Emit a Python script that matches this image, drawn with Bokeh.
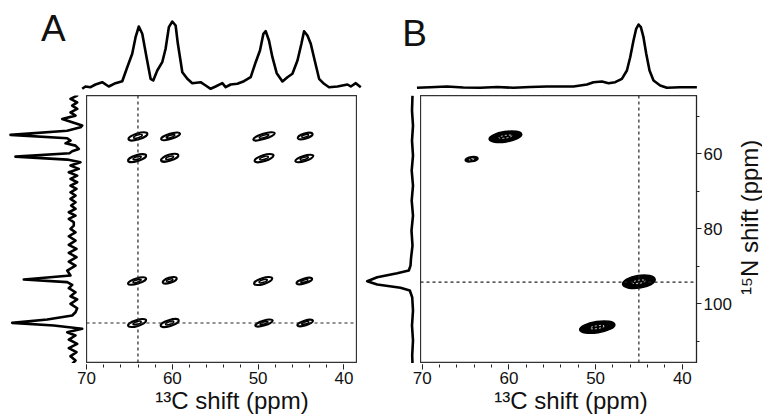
import math
from bokeh.plotting import figure
from bokeh.models import Range1d, Span, Label, SingleIntervalTicker, FixedTicker
from bokeh.layouts import row, column
from bokeh.embed import file_html
from bokeh.resources import INLINE

# ---------------- data ----------------
# Panel A: 1D 13C projection (ppm, intensity)
a_top_c = [70.50, 70.12, 69.53, 68.95, 68.17, 67.40, 66.62, 65.83, 65.25, 64.67, 64.28, 63.90, 63.50, 63.00,
           62.53, 62.22, 61.75, 61.17, 60.78, 60.40, 60.00, 59.61, 59.35, 58.83, 58.25, 57.67, 56.70, 56.11,
           55.53, 54.95, 54.17, 53.78, 53.20, 52.42, 51.65, 50.86, 50.28, 49.78, 49.38, 49.11, 48.73, 48.33,
           47.83, 47.16, 46.58, 46.00, 45.41, 44.95, 44.64, 44.25, 43.86, 43.40, 42.89, 42.31, 41.73, 40.75,
           39.58, 39.19, 38.61, 38.03]
a_top_i = [-1.3, 1.0, 0.3, 3.0, 5.3, 1.0, 4.3, 6.3, 20.3, 33.7, 50.3, 61.0, 53.7, 30.3,
           8.7, 7.0, 17.0, 25.3, 38.7, 60.3, 66.0, 62.0, 43.7, 15.3, 8.7, 4.3, 5.3, 2.0,
           -1.3, 1.0, 4.3, 0.3, 3.0, 3.7, 6.3, 10.3, 25.3, 37.0, 53.7, 56.3, 47.0, 30.3,
           14.3, 6.0, 10.3, 13.7, 27.0, 43.7, 56.3, 52.0, 43.7, 27.0, 8.7, 3.7, 0.3, 1.0,
           3.0, 1.0, 4.3, 0.3]

# Panel A: 1D 15N projection (ppm, intensity)
a_left_n = [43.65, 44.53, 45.41, 46.32, 47.20, 48.08, 48.99, 49.87, 50.75, 52.53, 52.99, 53.90, 55.00, 55.90,
            56.53, 57.25, 57.87, 58.75, 59.39, 59.90, 60.80, 61.60, 62.32, 63.20, 64.08, 64.99, 65.87, 66.75,
            67.65, 68.53, 69.41, 70.32, 71.20, 72.08, 72.99, 73.87, 74.75, 75.65, 76.53, 77.41, 78.32, 79.20,
            80.08, 80.99, 82.05, 83.20, 84.35, 85.41, 86.48, 87.65, 88.80, 89.87, 91.20, 92.53, 93.60, 94.30,
            95.01, 95.92, 96.99, 98.05, 98.93, 100.08, 101.25, 102.32, 103.20, 104.27, 105.15, 105.87, 106.75,
            107.65, 108.53, 109.60, 110.75, 111.92, 112.99, 114.05, 115.20, 116.08]
a_left_i = [0.3, -4.7, 2.0, -4.7, 0.3, -4.7, 2.0, -3.0, 10.3, -9.7, -8.0, 5.3, 62.0, 5.3,
            2.0, 7.0, -3.0, -6.3, 0.3, 3.0, 57.0, 5.3, -8.0, 2.0, -6.3, 3.7, -4.7, 2.0,
            -4.7, 2.0, -4.0, 2.0, -3.0, 2.0, -3.0, 1.3, -3.0, 3.7, -3.0, 3.7, -1.3, -1.3,
            2.0, -3.0, 3.7, -3.0, 3.7, -4.0, 3.7, -4.0, 3.7, -3.0, 5.3, 2.0, 48.7, 5.3,
            0.3, 3.7, -3.0, 2.0, -4.7, 2.0, -4.7, -3.0, 0.3, 25.3, 60.3, 18.7, -9.7,
            5.3, -3.0, 3.7, -4.7, 3.7, -4.0, 2.0, -3.0, 0.3]

# Panel A: 2D cross peaks (13C ppm, 15N ppm, width ppm, height ppm)
a_peak_c = [64.0, 60.2, 49.3, 44.5, 64.1, 60.3, 49.3, 44.6, 64.1, 60.3, 49.4, 44.6, 64.1, 60.3, 49.3, 44.5]
a_peak_n = [55.4, 55.4, 55.4, 55.3, 61.2, 61.1, 61.2, 61.3, 94.0, 93.8, 94.0, 94.0, 105.2, 105.2, 105.2, 105.2]
a_peak_w = [2.3, 2.3, 2.6, 1.8, 2.2, 2.1, 2.3, 2.2, 2.2, 1.7, 2.2, 1.9, 2.2, 2.2, 2.1, 1.9]
a_peak_h = [1.6, 1.4, 1.4, 1.4, 1.6, 1.6, 1.6, 1.4, 1.4, 1.4, 1.6, 1.3, 1.6, 1.6, 1.3, 1.3]
a_cross_c = 64.0
a_cross_n = 105.2

# Panel B: 1D 13C projection
b_top_c = [70.61, 69.08, 67.15, 65.27, 63.31, 61.35, 59.47, 57.54, 55.62, 54.08, 52.55, 51.00, 50.24, 49.27,
           48.51, 47.74, 46.97, 46.39, 46.01, 45.63, 45.32, 45.05, 44.78, 44.48, 44.16, 43.78, 43.32, 42.55,
           41.78, 40.24, 38.32]
b_top_i = [-0.3, 0.3, 1.0, 0.0, -0.3, 0.5, -0.3, 0.5, 1.0, 1.0, 1.0, 3.0, 5.3, 6.0,
           4.3, 5.3, 8.7, 17.0, 30.3, 47.0, 58.7, 63.0, 60.3, 50.3, 33.7, 17.0, 7.0, 2.0,
           -0.3, 0.3, 0.3]

# Panel B: 1D 15N projection
b_left_n = [44.53, 48.53, 52.53, 56.53, 60.53, 64.53, 68.53, 72.53, 76.53, 80.53, 84.53, 88.00, 89.87,
            91.20, 91.92, 92.99, 94.05, 94.93, 95.81, 96.53, 98.32, 101.87, 105.87, 109.87, 113.87, 116.08]
b_left_i = [0.0, 0.5, -0.5, 0.5, -0.5, 0.8, -0.5, 0.8, -0.5, 1.0, 0.0, 1.5, 2.0,
            3.7, 15.3, 35.3, 45.3, 35.3, 12.0, 2.7, 0.3, -0.5, 0.5, -0.5, 0.3, 0.0]

# Panel B: 2D cross peaks
b_peak_c = [60.4, 64.3, 45.0, 49.8]
b_peak_n = [55.5, 61.5, 94.2, 106.3]
b_peak_w = [3.8, 1.5, 3.8, 4.1]
b_peak_h = [2.8, 1.3, 3.4, 3.0]
b_cross_c = 45.0
b_cross_n = 94.3

# axes
x_major_ticks = [70, 60, 50, 40]
x_minor_ticks = [40, 42, 44, 46, 48, 50, 52, 54, 56, 58, 60, 62, 64, 66, 68, 70]
y_ticks_interval = 20
x_title = "¹³C shift (ppm)"
y_title = "¹⁵N shift (ppm)"

# ---------------- styling helpers ----------------
FONT = "Liberation Sans"
TILT = 0.3
PAD = 8
TICK_FS = "17px"
TITLE_FS = "24px"


def bare(fw, fh, xr, yr, left=0, top=0):
    p = figure(frame_width=fw, frame_height=fh, x_range=xr, y_range=yr,
               toolbar_location=None, output_backend="svg",
               x_axis_location=None, y_axis_location=None, min_border=0)
    p.min_border_left = left
    p.min_border_top = top
    p.outline_line_color = None
    p.grid.visible = False
    p.background_fill_color = "white"
    p.border_fill_color = "white"
    return p


def style_axis(ax, ticker):
    ax.ticker = ticker
    ax.major_tick_in = 0
    ax.major_tick_out = 5
    ax.minor_tick_in = 0
    ax.minor_tick_out = 3
    ax.major_tick_line_color = "#222"
    ax.minor_tick_line_color = "#222"
    ax.axis_line_color = "#222"
    ax.major_label_text_font = FONT
    ax.major_label_text_font_size = TICK_FS
    ax.major_label_text_color = "#111"
    ax.major_label_standoff = 2


def main_fig(fw, fh, xr, yr, yloc):
    p = figure(frame_width=fw, frame_height=fh, x_range=xr, y_range=yr,
               toolbar_location=None, output_backend="svg",
               x_axis_location=None, y_axis_location=yloc, min_border=0)
    p.grid.visible = False
    p.outline_line_color = "#333"
    p.outline_line_width = 1.3
    return p


def strip(left, fw, xr):
    # thin strip directly under a 2D panel that carries its 13C axis (ticks, labels, title)
    p = figure(frame_width=fw, frame_height=1, x_range=xr, y_range=Range1d(0, 1),
               toolbar_location=None, output_backend="svg",
               x_axis_location="below", y_axis_location=None, min_border=0)
    p.min_border_left = left
    p.outline_line_color = None
    p.grid.visible = False
    ax = p.xaxis[0]
    style_axis(ax, FixedTicker(ticks=x_major_ticks, minor_ticks=x_minor_ticks))
    ax.axis_line_color = None
    ax.axis_label = x_title
    ax.axis_label_text_font = FONT
    ax.axis_label_text_font_size = TITLE_FS
    ax.axis_label_text_font_style = "normal"
    ax.axis_label_text_color = "#111"
    ax.axis_label_standoff = 0
    return p


yr = Range1d(116.0, 44.5)

# ---------------- panel A ----------------
ta = bare(354, 87, Range1d(79.09, 37.83), Range1d(-8, 79), left=PAD, top=PAD)
ta.line(a_top_c, a_top_i, line_color="black", line_width=2.6, line_join="round")
ta.add_layout(Label(x=75.3, y=39, text="A", text_font=FONT, text_font_size="37px",
                    text_baseline="bottom", text_align="left", text_color="#111"))

la = bare(78, 268, Range1d(64, -14), yr, left=PAD)
la.line(a_left_i, a_left_n, line_color="black", line_width=2.6, line_join="round")

ma = main_fig(271, 268, Range1d(70.0, 38.4), yr, None)
for f, lw in ((1.0, 2.1), (0.45, 1.6)):
    ma.ellipse(a_peak_c, a_peak_n, width=[w * f for w in a_peak_w], height=[h * f for h in a_peak_h],
               angle=TILT, fill_color=None, line_color="black", line_width=lw)
ma.add_layout(Span(location=a_cross_c, dimension="height", line_dash="3 3", line_color="#222", line_width=1.2))
ma.add_layout(Span(location=a_cross_n, dimension="width", line_dash="3 3", line_color="#222", line_width=1.2))

sa = strip(76, 311, Range1d(71.17, 34.92))

# ---------------- panel B ----------------
tb = bare(398, 87, Range1d(76.89, 30.98), Range1d(-8, 79), top=PAD)
tb.line(b_top_c, b_top_i, line_color="black", line_width=2.6, line_join="round")
tb.add_layout(Label(x=72.3, y=33.5, text="B", text_font=FONT, text_font_size="37px",
                    text_baseline="bottom", text_align="left", text_color="#111"))

lb = bare(63, 268, Range1d(55, -8), yr)
lb.line(b_left_i, b_left_n, line_color="black", line_width=2.6, line_join="round")

mb = main_fig(276, 268, Range1d(70.2, 38.35), yr, "right")
style_axis(mb.yaxis[0], SingleIntervalTicker(interval=y_ticks_interval, num_minor_ticks=2))
mb.ellipse(b_peak_c, b_peak_n, width=b_peak_w, height=b_peak_h, angle=0.15,
           fill_color="black", line_color="black", line_width=1.5)
mb.ellipse(b_peak_c, b_peak_n, width=[w * 0.4 for w in b_peak_w], height=[h * 0.25 for h in b_peak_h],
           angle=0.15, fill_color=None, line_color="white", line_width=0.8, line_dash="2 2")
mb.add_layout(Span(location=b_cross_c, dimension="height", line_dash="3 3", line_color="#222", line_width=1.2))
mb.add_layout(Span(location=b_cross_n, dimension="width", line_dash="3 3", line_color="#222", line_width=1.2))

sb = strip(23, 321, Range1d(71.35, 34.33))

# right-hand 15N axis title, reading bottom to top
rf = bare(28, 268, Range1d(0, 28), yr)
rf.add_layout(Label(x=15, y=77.0, text=y_title, angle=math.pi / 2, text_font=FONT, text_font_size=TITLE_FS,
                    text_align="center", text_baseline="middle", text_color="#111"))

layout = column(row(ta, tb), row(la, ma, lb, mb, rf), row(sa, sb))

with open("out.html", "w") as fh:
    fh.write(file_html(layout, INLINE))
